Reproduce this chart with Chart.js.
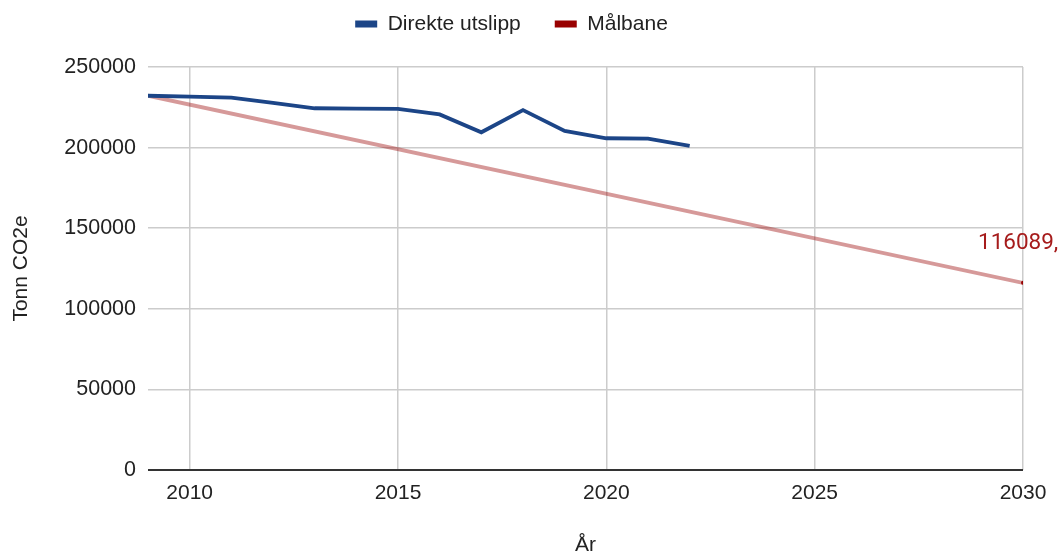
<!DOCTYPE html>
<html><head><meta charset="utf-8">
<script src="https://cdn.jsdelivr.net/npm/chart.js@4"></script>
<style>html,body{margin:0;padding:0;background:#fff}#wrap{width:1059px;height:554px;position:relative}</style>
</head><body><div id="wrap"><canvas id="c"></canvas></div>
<script>
const years = [2009, 2010, 2011, 2012, 2013, 2014, 2015, 2016, 2017, 2018, 2019, 2020, 2021, 2022];
const directEmissions = [232178, 231600, 231000, 227700, 224400, 224200, 224000, 220600, 209500, 223300, 210300, 205800, 205600, 201000];
const targetYears = [2009, 2030];
const targetValues = [232178, 116089];
const xTickValues = [2010, 2015, 2020, 2025, 2030];
const seriesNames = ['Direkte utslipp', 'Målbane'];
const xTitle = 'År';
const yTitle = 'Tonn CO2e';

const FONT = "'Liberation Sans', Arial, sans-serif";
const legendColors = ['#1c4587', '#990000'];

const legendFix = {
  id: 'legendFix',
  beforeLayout(chart) {
    const lg = chart.legend;
    if (lg && !lg._patched) {
      const orig = lg.fit.bind(lg);
      lg.fit = function () { orig(); this.height = 67; };
      lg._patched = true;
    }
  },
  afterLayout(chart) {
    const lg = chart.legend;
    if (lg) { lg.top -= 20.5; lg.bottom -= 20.5; }
  }
};

const endLabel = {
  id: 'endLabel',
  afterDatasetsDraw(chart) {
    const meta = chart.getDatasetMeta(1);
    const pt = meta.data[meta.data.length - 1];
    if (!pt) return;
    const ctx = chart.ctx;
    ctx.save();
    ctx.font = "22.5px Roboto, 'Open Sans', sans-serif";
    ctx.fillStyle = '#a61c1c';
    ctx.textAlign = 'left';
    ctx.textBaseline = 'middle';
    ctx.fillText(String(targetValues[targetValues.length - 1]) + ',', pt.x - 45, pt.y - 39);
    ctx.restore();
  }
};

new Chart(document.getElementById('c'), {
  type: 'line',
  data: {
    datasets: [
      {
        label: seriesNames[0],
        data: years.map((y, i) => ({x: y, y: directEmissions[i]})),
        borderColor: '#1c4587',
        backgroundColor: '#1c4587',
        borderWidth: 3.8,
        pointRadius: 0,
        tension: 0
      },
      {
        label: seriesNames[1],
        data: targetYears.map((y, i) => ({x: y, y: targetValues[i]})),
        borderColor: 'rgba(153,0,0,0.4)',
        backgroundColor: '#990000',
        borderWidth: 3.8,
        pointRadius: (c) => c.dataIndex === targetYears.length - 1 ? 2 : 0,
        pointBackgroundColor: '#990000',
        pointBorderWidth: 0,
        tension: 0
      }
    ]
  },
  options: {
    responsive: true,
    maintainAspectRatio: false,
    animation: false,
    layout: {padding: {left: 0, right: 36, top: 0, bottom: 0}},
    plugins: {
      tooltip: {enabled: false},
      legend: {
        position: 'top',
        align: 'center',
        labels: {
          boxWidth: 22,
          boxHeight: 7,
          padding: 34,
          color: '#222',
          font: {family: FONT, size: 21},
          generateLabels: (chart) => Chart.defaults.plugins.legend.labels.generateLabels(chart).map(l => ({
            ...l, fillStyle: legendColors[l.datasetIndex], strokeStyle: legendColors[l.datasetIndex], lineWidth: 0
          }))
        }
      }
    },
    scales: {
      x: {
        type: 'linear',
        min: 2009,
        max: 2030,
        afterBuildTicks: (axis) => { axis.ticks = xTickValues.map(v => ({value: v})); },
        afterFit: (s) => { s.height = 84; },
        ticks: {
          padding: 11,
          color: '#222',
          font: {family: FONT, size: 21},
          maxRotation: 0,
          autoSkip: false,
          callback: (v) => String(v)
        },
        grid: {color: '#cccccc', lineWidth: 1.5, drawTicks: false},
        border: {display: false},
        title: {display: true, text: xTitle, color: '#222', font: {family: FONT, size: 21, lineHeight: 0.8}, padding: {top: 0, bottom: 0}}
      },
      y: {
        min: 0,
        max: 250000,
        afterFit: (s) => { s.width = 148; },
        ticks: {
          stepSize: 50000,
          padding: 12,
          color: '#222',
          font: {family: FONT, size: 21.5},
          callback: (v) => String(v)
        },
        grid: {
          color: (c) => c.tick && c.tick.value === 0 ? '#333333' : '#cccccc',
          lineWidth: (c) => c.tick && c.tick.value === 0 ? 2 : 1.5,
          drawTicks: false
        },
        border: {display: false},
        title: {display: true, text: yTitle, color: '#222', font: {family: FONT, size: 21}, padding: {top: 9, bottom: 0}}
      }
    }
  },
  plugins: [legendFix, endLabel]
});
</script>
</body></html>
